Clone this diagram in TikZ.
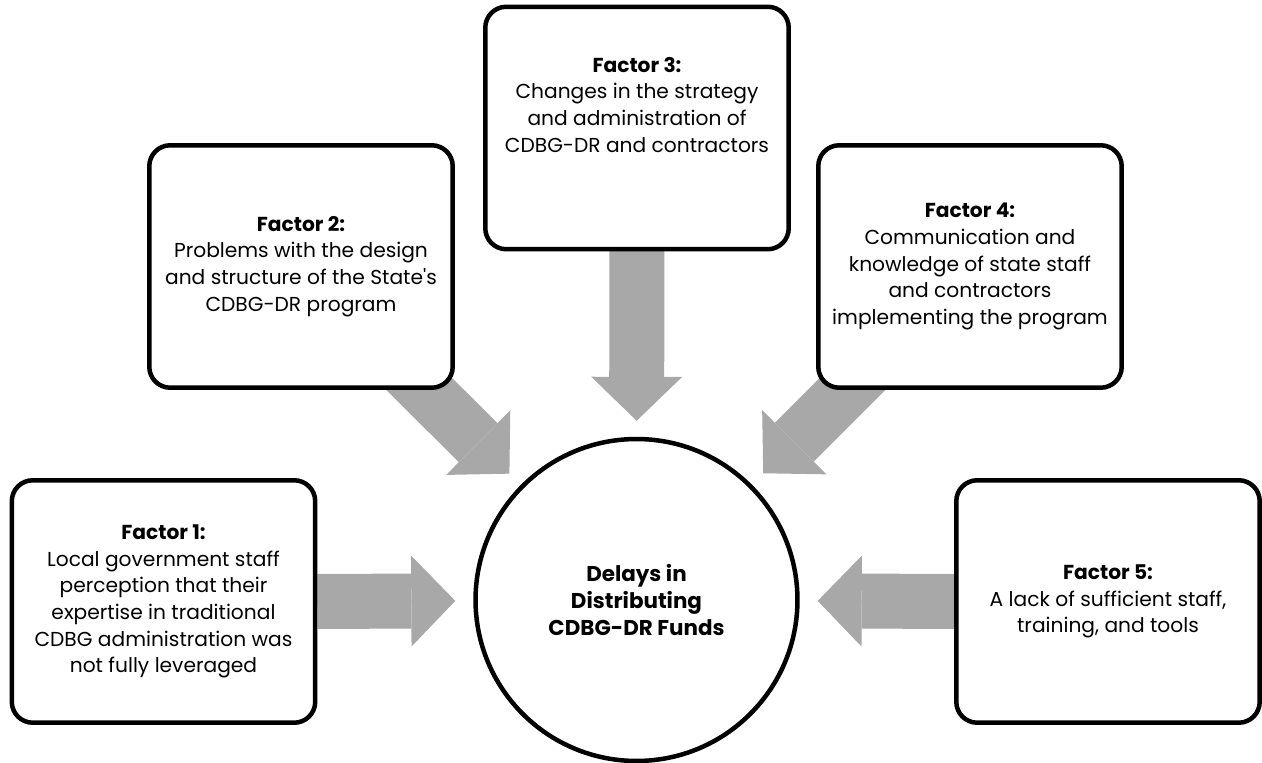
\documentclass[tikz,border=0pt]{standalone}
\usepackage{fontspec}
\setmainfont{Poppins}
\usetikzlibrary{arrows.meta,backgrounds}

\definecolor{arrowgray}{RGB}{168,168,168}

\tikzset{
	factorbox/.style = {draw, fill = white, line width = 0.09cm, rounded corners = 0.42cm,
		minimum width = 6.07cm, minimum height = 4.85cm, align = center,
		font = \fontsize{11.5pt}{15.2pt}\selectfont},
	delaycircle/.style = {draw, fill = white, circle, line width = 0.09cm,
		minimum size = 6.44cm, align = center,
		font = \fontsize{12.2pt}{15.2pt}\selectfont\bfseries},
	blockarrow/.style = {line width = 1.1cm, draw = arrowgray, shorten > = #1,
		-{Triangle[length = 0.88cm, width = 1.82cm, line width = 0pt]},
		preaction = {draw = arrowgray, -, shorten > = #1 + 0.7cm}}
}

\begin{document}
\begin{tikzpicture}[x = 0.02cm, y = -0.02cm]
	 \useasboundingbox (0, 0) rectangle (1262, 763);
	 
	 \node[delaycircle] (delay) at (636.5, 600) {Delays in\\ Distributing\\ CDBG-DR Funds};
	 
	 \node[factorbox] (f1) at (163.5, 601.5) {\textbf{Factor 1:}\\ Local government staff\\ perception that their\\ expertise in traditional\\ CDBG administration was\\ not fully leveraged};
	 
	 \node[factorbox] (f2) at (301, 266.5) {\textbf{Factor 2:}\\ Problems with the design\\ and structure of the State\textquotesingle s\\ CDBG-DR program};
	 
	 \node[factorbox] (f3) at (637, 128) {\textbf{Factor 3:}\\ Changes in the strategy\\ and administration of\\ CDBG-DR and contractors\\[0.4cm]};
	 
	 \node[factorbox] (f4) at (970, 266.5) {\textbf{Factor 4:}\\ Communication and\\ knowledge of state staff\\ and contractors\\ implementing the program};
	 
	 \node[factorbox] (f5) at (1108, 601.5) {\textbf{Factor 5:}\\ A lack of sufficient staff,\\ training, and tools};
	 
	 \begin{scope}[on background layer]
	 \draw[blockarrow = 0.36cm] (f1.east) -- (delay);
	 \draw[blockarrow = 0.32cm] (f2.center) -- (delay);
	 \draw[blockarrow = 0.32cm] (f3.center) -- (delay);
	 \draw[blockarrow = 0.32cm] (f4.center) -- (delay);
	 \draw[blockarrow = 0.36cm] (f5.west) -- (delay);
	 \end{scope}
\end{tikzpicture}
\end{document}
